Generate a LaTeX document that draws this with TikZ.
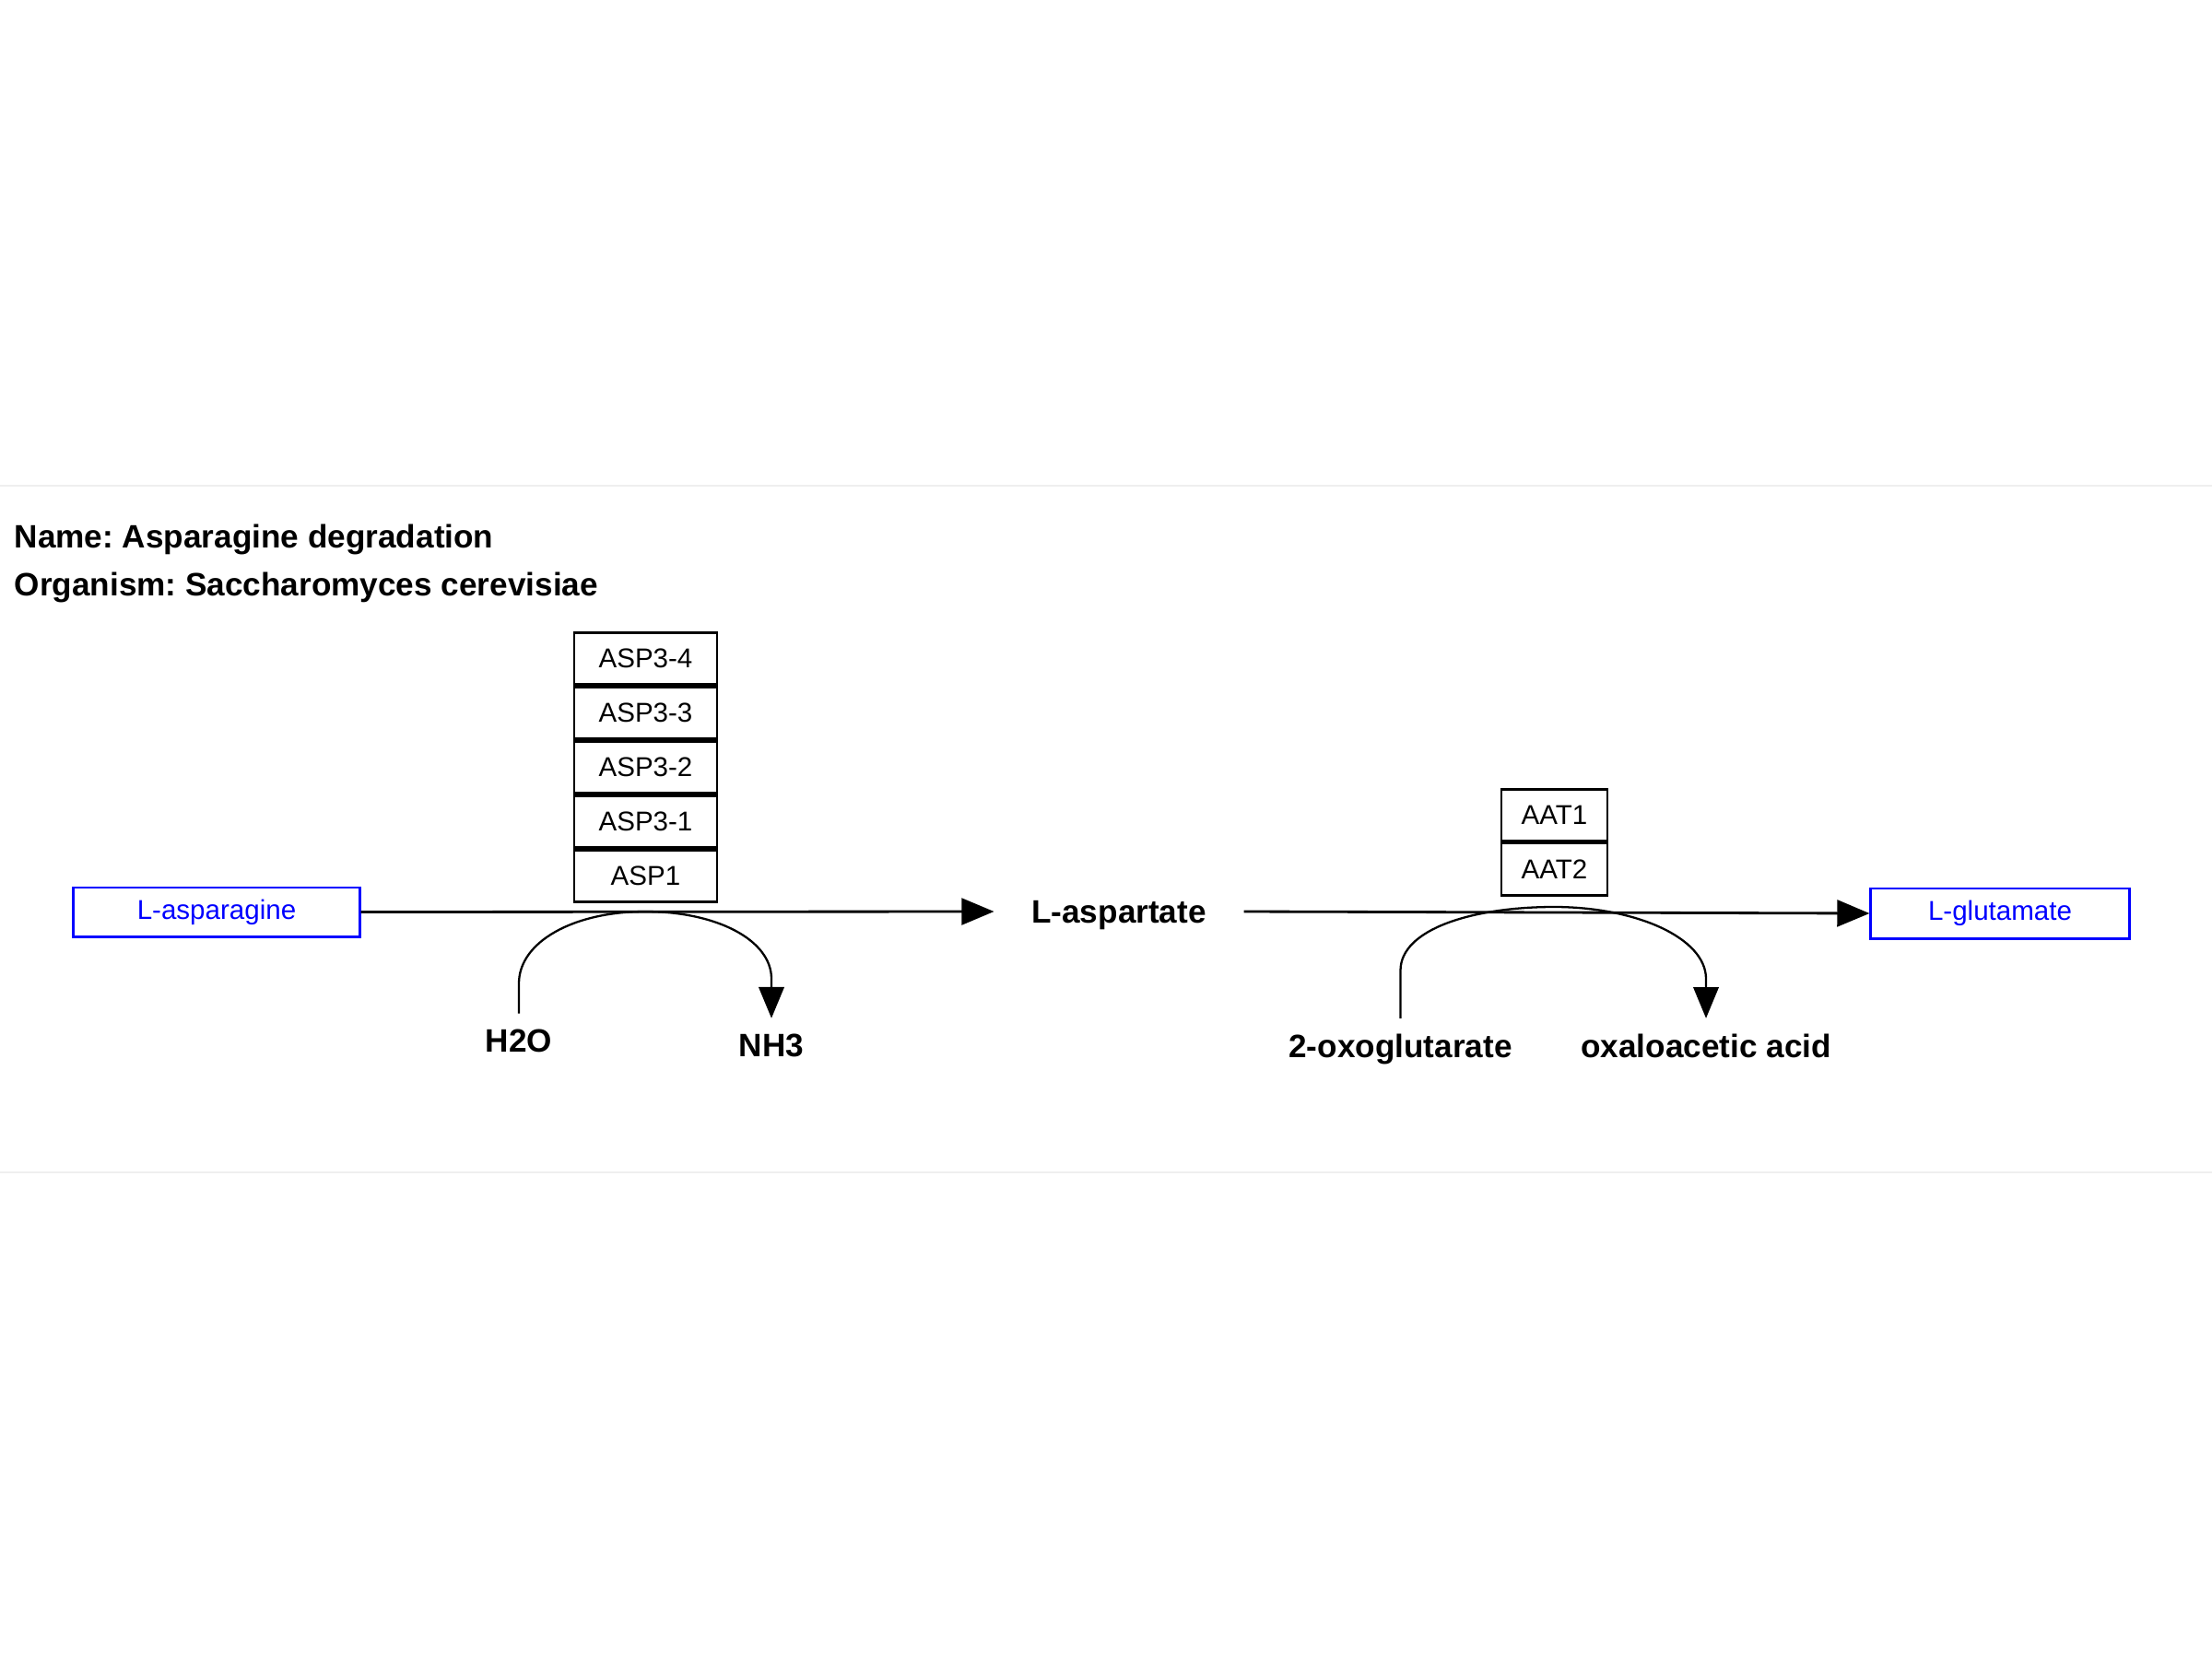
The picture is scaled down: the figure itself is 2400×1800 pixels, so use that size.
\documentclass[tikz,border=0pt]{standalone}
\usepackage{fontspec}
\setmainfont{Liberation Sans}
\usetikzlibrary{arrows.meta}
\definecolor{sepgray}{HTML}{EFEFEF}
\definecolor{metblue}{HTML}{0000FF}
\frenchspacing
\begin{document}
\begin{tikzpicture}[x=0.01cm,y=-0.01cm,
  title/.style={anchor=base west,inner sep=0pt,font=\fontsize{10}{12}\selectfont\bfseries},
  enzbox/.style={draw=black,line width=0.75pt,inner sep=0pt,minimum height=0.565cm,font=\fontsize{8.4}{10}\selectfont},
  metbox/.style={draw=metblue,text=metblue,line width=0.85pt,inner sep=0pt,font=\fontsize{8.4}{10}\selectfont},
  boldlbl/.style={font=\fontsize{10}{12}\selectfont\bfseries},
  sidelbl/.style={anchor=base,inner xsep=0pt,inner ysep=0.16cm,font=\fontsize{10}{12}\selectfont\bfseries},
  mainarrow/.style={line width=0.8pt,-{Triangle[length=10pt,width=8.2pt]}},
  sidearrow/.style={line width=0.65pt,-{Triangle[length=9.6pt,width=7.8pt]}},
  sideline/.style={line width=0.65pt}]
\useasboundingbox[fill=white] (0,0) rectangle (2400,1800);
\draw[sepgray,line width=0.5pt] (0,527) -- (2400,527);
\draw[sepgray,line width=0.5pt] (0,1272) -- (2400,1272);

\node[title] (name) at (15,594) {Name: Asparagine degradation};
\node[title] (org) at (15,646) {Organism: Saccharomyces cerevisiae};

% enzymes ASP
\node[enzbox,minimum width=1.55cm] (asp34) at (700.5,714.5) {ASP3-4};
\node[enzbox,minimum width=1.55cm] (asp33) at (700.5,773.5) {ASP3-3};
\node[enzbox,minimum width=1.55cm] (asp32) at (700.5,832.5) {ASP3-2};
\node[enzbox,minimum width=1.55cm] (asp31) at (700.5,891.5) {ASP3-1};
\node[enzbox,minimum width=1.55cm] (asp1) at (700.5,950.5) {ASP1};

% enzymes AAT
\node[enzbox,minimum width=1.15cm] (aat1) at (1686.5,884.5) {AAT1};
\node[enzbox,minimum width=1.15cm] (aat2) at (1686.5,943) {AAT2};

% metabolites
\node[metbox,minimum width=3.10cm,minimum height=0.53cm] (lasn) at (235,989.5) {L-asparagine};
\node[boldlbl,inner xsep=0.40cm,text height=0.25cm,text depth=0.01cm] (lasp) at (1214,989) {L-aspartate};
\node[metbox,minimum width=2.80cm,minimum height=0.54cm] (lglu) at (2170,991) {L-glutamate};

% side metabolites
\node[sidelbl] (h2o) at (563,1141) {H2O};
\node[sidelbl] (nh3) at (837,1146) {NH3};
\node[sidelbl] (oxo) at (1519.5,1147) {2-oxoglutarate};
\node[sidelbl] (oaa) at (1851,1147) {oxaloacetic acid};

% main reactions
\draw[mainarrow] (lasn.east) -- (lasp.west);
\draw[mainarrow] (lasp.east) -- (lglu.west);

% side reactions
\coordinate (top1) at (700,989);
\coordinate (top2) at (1686,984);
\draw[sidearrow] (h2o.north) -- (563,1067)
  .. controls (563,1022) and (622,989) .. (top1)
  .. controls (778,989) and (837,1020) .. (837,1062) -- (nh3.north);
\draw[sidearrow] (oxo.north) -- (1519.5,1053)
  .. controls (1519.5,1008) and (1598,984) .. (top2)
  .. controls (1776,984) and (1851,1018) .. (1851,1062) -- (oaa.north);
\end{tikzpicture}
\end{document}
